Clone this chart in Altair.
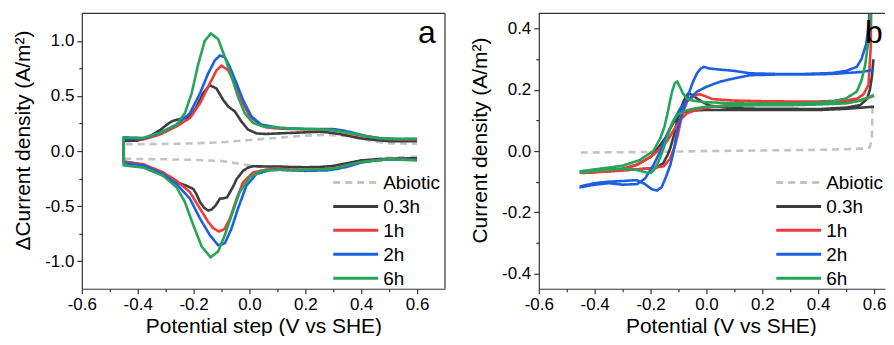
import altair as alt
import pandas as pd

SERIES = ["Abiotic", "0.3h", "1h", "2h", "6h"]
COLORS = ["#c4c4c4", "#3d3d3d", "#f03a3a", "#1c60e2", "#27a458"]
DASHES = [[7, 5], [1, 0], [1, 0], [1, 0], [1, 0]]

# ---------- panel a : differential current density (lower branch then upper branch)
A_ABIOTIC = [(0.6, -0.05), (0.5, -0.06), (0.45, -0.075), (0.4, -0.1), (0.35, -0.135), (0.3, -0.155),
             (0.2, -0.165), (0.1, -0.155), (0.0, -0.13), (-0.1, -0.09), (-0.2, -0.08), (-0.3, -0.075),
             (-0.45, -0.07), (-0.45, 0.06), (-0.3, 0.065), (-0.2, 0.07), (-0.1, 0.08), (0.0, 0.1),
             (0.1, 0.12), (0.2, 0.14), (0.28, 0.148), (0.35, 0.135), (0.4, 0.11), (0.45, 0.085),
             (0.5, 0.07), (0.6, 0.065)]
A_03H = [(0.6, -0.065), (0.5, -0.07), (0.45, -0.075), (0.4, -0.085), (0.35, -0.11), (0.3, -0.135),
         (0.25, -0.145), (0.2, -0.147), (0.15, -0.145), (0.1, -0.14), (0.05, -0.14), (0.013, -0.138),
         (-0.005, -0.15), (-0.023, -0.179), (-0.035, -0.22), (-0.046, -0.254), (-0.058, -0.32),
         (-0.07, -0.374), (-0.08, -0.42), (-0.095, -0.43), (-0.106, -0.433), (-0.12, -0.49),
         (-0.135, -0.53), (-0.148, -0.54), (-0.162, -0.515), (-0.177, -0.463), (-0.19, -0.39),
         (-0.201, -0.344), (-0.23, -0.31), (-0.261, -0.283), (-0.285, -0.25), (-0.309, -0.224),
         (-0.35, -0.16), (-0.4, -0.115), (-0.45, -0.095),
         (-0.45, 0.09), (-0.4, 0.095), (-0.36, 0.13), (-0.32, 0.19), (-0.29, 0.25), (-0.273, 0.275),
         (-0.25, 0.29), (-0.225, 0.3), (-0.205, 0.34), (-0.189, 0.404), (-0.166, 0.524), (-0.142, 0.598),
         (-0.118, 0.568), (-0.094, 0.464), (-0.076, 0.404), (-0.052, 0.359), (-0.029, 0.269),
         (-0.005, 0.195), (0.025, 0.16), (0.06, 0.155), (0.1, 0.16), (0.15, 0.165), (0.2, 0.17),
         (0.25, 0.175), (0.28, 0.17), (0.32, 0.155), (0.36, 0.135), (0.4, 0.115), (0.45, 0.1),
         (0.5, 0.09), (0.55, 0.09), (0.6, 0.09)]
A_1H = [(0.6, -0.08), (0.55, -0.075), (0.5, -0.075), (0.45, -0.085), (0.4, -0.1), (0.36, -0.125),
        (0.32, -0.15), (0.28, -0.165), (0.2, -0.17), (0.15, -0.168), (0.108, -0.16), (0.061, -0.168),
        (0.013, -0.194), (-0.023, -0.284), (-0.046, -0.433), (-0.07, -0.613), (-0.09, -0.71),
        (-0.109, -0.73), (-0.13, -0.7), (-0.148, -0.642), (-0.177, -0.523), (-0.213, -0.373),
        (-0.261, -0.269), (-0.309, -0.194), (-0.38, -0.119), (-0.45, -0.1),
        (-0.45, 0.12), (-0.38, 0.105), (-0.32, 0.15), (-0.261, 0.224), (-0.213, 0.3), (-0.177, 0.434),
        (-0.142, 0.613), (-0.118, 0.733), (-0.1, 0.775), (-0.076, 0.733), (-0.052, 0.613),
        (-0.029, 0.464), (0.001, 0.314), (0.037, 0.24), (0.06, 0.215), (0.1, 0.205), (0.15, 0.2),
        (0.2, 0.198), (0.25, 0.198), (0.28, 0.195), (0.32, 0.18), (0.36, 0.16), (0.4, 0.14),
        (0.45, 0.12), (0.5, 0.11), (0.55, 0.105), (0.6, 0.105)]
A_2H = [(0.6, -0.08), (0.5, -0.075), (0.45, -0.085), (0.4, -0.105), (0.36, -0.135), (0.32, -0.16),
        (0.28, -0.175), (0.2, -0.18), (0.15, -0.175), (0.108, -0.17), (0.073, -0.172), (0.025, -0.209),
        (-0.011, -0.314), (-0.041, -0.523), (-0.064, -0.702), (-0.088, -0.837), (-0.112, -0.855),
        (-0.142, -0.762), (-0.177, -0.613), (-0.213, -0.433), (-0.261, -0.299), (-0.309, -0.209),
        (-0.38, -0.13), (-0.45, -0.11),
        (-0.45, 0.11), (-0.38, 0.115), (-0.32, 0.165), (-0.261, 0.24), (-0.213, 0.344), (-0.177, 0.524),
        (-0.148, 0.703), (-0.124, 0.822), (-0.106, 0.867), (-0.088, 0.852), (-0.07, 0.762),
        (-0.046, 0.613), (-0.023, 0.464), (0.007, 0.314), (0.043, 0.24), (0.108, 0.21), (0.15, 0.205),
        (0.2, 0.2), (0.25, 0.2), (0.3, 0.2), (0.34, 0.185), (0.38, 0.16), (0.42, 0.135), (0.47, 0.115),
        (0.52, 0.11), (0.6, 0.11)]
A_6H = [(0.6, -0.085), (0.5, -0.075), (0.45, -0.085), (0.4, -0.1), (0.36, -0.12), (0.32, -0.15),
        (0.28, -0.165), (0.2, -0.17), (0.15, -0.175), (0.108, -0.17), (0.043, -0.179), (0.001, -0.239),
        (-0.035, -0.373), (-0.064, -0.583), (-0.088, -0.762), (-0.112, -0.911), (-0.139, -0.965),
        (-0.171, -0.867), (-0.201, -0.673), (-0.231, -0.463), (-0.261, -0.329), (-0.309, -0.224),
        (-0.38, -0.15), (-0.45, -0.13),
        (-0.45, 0.125), (-0.38, 0.12), (-0.32, 0.165), (-0.261, 0.24), (-0.231, 0.344), (-0.207, 0.524),
        (-0.183, 0.793), (-0.16, 1.0), (-0.138, 1.067), (-0.112, 1.017), (-0.088, 0.852),
        (-0.064, 0.673), (-0.041, 0.493), (-0.017, 0.344), (0.013, 0.255), (0.049, 0.224), (0.1, 0.212),
        (0.15, 0.205), (0.2, 0.2), (0.25, 0.198), (0.28, 0.195), (0.32, 0.18), (0.358, 0.165),
        (0.4, 0.145), (0.44, 0.125), (0.477, 0.111), (0.55, 0.11), (0.6, 0.111)]

# ---------- panel b : cyclic voltammograms (reverse branch then forward branch)
B_ABIOTIC = [(-0.45, -0.005), (-0.2, -0.003), (0.0, 0.0), (0.2, 0.002), (0.4, 0.004), (0.5, 0.006),
             (0.56, 0.008), (0.585, 0.012), (0.592, 0.04), (0.594, 0.1), (0.595, 0.15)]
B_03H = [(0.6, 0.145), (0.5, 0.138), (0.4, 0.134), (0.3, 0.134), (0.157, 0.134), (-0.01, 0.134),
         (-0.05, 0.132), (-0.093, 0.126), (-0.11, 0.105), (-0.129, 0.075), (-0.145, 0.045),
         (-0.165, 0.02), (-0.2, -0.02), (-0.25, -0.045), (-0.3, -0.058), (-0.4, -0.068), (-0.45, -0.07),
         (-0.45, -0.07), (-0.35, -0.065), (-0.25, -0.06), (-0.18, -0.055), (-0.155, -0.04),
         (-0.14, -0.015), (-0.129, 0.01), (-0.117, 0.05), (-0.105, 0.097), (-0.093, 0.135),
         (-0.082, 0.162), (-0.072, 0.18), (-0.064, 0.189), (-0.05, 0.183), (-0.034, 0.172),
         (-0.01, 0.158), (0.014, 0.148), (0.1, 0.14), (0.2, 0.138), (0.3, 0.138), (0.4, 0.137),
         (0.5, 0.142), (0.55, 0.15), (0.575, 0.17), (0.585, 0.2), (0.592, 0.24), (0.598, 0.3)]
B_1H = [(0.6, 0.18), (0.55, 0.165), (0.5, 0.158), (0.4, 0.156), (0.3, 0.155), (0.2, 0.155), (0.1, 0.152),
        (0.05, 0.148), (-0.01, 0.14), (-0.04, 0.133), (-0.069, 0.124), (-0.087, 0.108), (-0.105, 0.086),
        (-0.141, 0.032), (-0.189, -0.012), (-0.248, -0.045), (-0.3, -0.06), (-0.4, -0.07), (-0.45, -0.072),
        (-0.45, -0.072), (-0.35, -0.067), (-0.25, -0.06), (-0.2, -0.056), (-0.153, -0.05), (-0.13, -0.025),
        (-0.115, 0.01), (-0.105, 0.042), (-0.087, 0.118), (-0.069, 0.162), (-0.045, 0.18),
        (-0.025, 0.186), (0.0, 0.178), (0.02, 0.17), (0.1, 0.165), (0.2, 0.163), (0.3, 0.162),
        (0.4, 0.162), (0.5, 0.165), (0.54, 0.172), (0.562, 0.185), (0.58, 0.216), (0.588, 0.335),
        (0.592, 0.6)]
B_2H = [(0.6, 0.265), (0.55, 0.258), (0.45, 0.252), (0.35, 0.25), (0.25, 0.25), (0.157, 0.248),
        (0.097, 0.237), (0.05, 0.227), (0.0, 0.21), (-0.034, 0.194), (-0.06, 0.172), (-0.093, 0.14),
        (-0.12, 0.095), (-0.141, 0.053), (-0.165, 0.0), (-0.189, -0.045), (-0.22, -0.09),
        (-0.248, -0.108), (-0.3, -0.11), (-0.35, -0.105), (-0.4, -0.11), (-0.45, -0.118),
        (-0.45, -0.115), (-0.4, -0.105), (-0.35, -0.1), (-0.3, -0.098), (-0.25, -0.095), (-0.22, -0.108),
        (-0.195, -0.125), (-0.177, -0.129), (-0.16, -0.118), (-0.145, -0.085), (-0.129, -0.045),
        (-0.117, 0.0), (-0.105, 0.064), (-0.087, 0.125), (-0.069, 0.172), (-0.05, 0.222),
        (-0.034, 0.254), (-0.02, 0.27), (-0.01, 0.275), (0.01, 0.27), (0.05, 0.266), (0.1, 0.262),
        (0.157, 0.254), (0.25, 0.252), (0.35, 0.252), (0.45, 0.255), (0.5, 0.262), (0.538, 0.275),
        (0.555, 0.3), (0.572, 0.35), (0.582, 0.42), (0.588, 0.6)]
B_6H = [(0.6, 0.183), (0.55, 0.165), (0.503, 0.156), (0.4, 0.152), (0.3, 0.15), (0.2, 0.15), (0.1, 0.148),
        (0.0, 0.145), (-0.05, 0.138), (-0.08, 0.13), (-0.105, 0.118), (-0.118, 0.1), (-0.129, 0.075),
        (-0.14, 0.045), (-0.153, 0.01), (-0.165, -0.02), (-0.177, -0.045), (-0.19, -0.065), (-0.2, -0.072),
        (-0.215, -0.07), (-0.25, -0.062), (-0.3, -0.058), (-0.4, -0.065), (-0.45, -0.07),
        (-0.45, -0.066), (-0.4, -0.06), (-0.3, -0.048), (-0.24, -0.03), (-0.19, 0.0), (-0.165, 0.042),
        (-0.15, 0.08), (-0.14, 0.12), (-0.13, 0.165), (-0.123, 0.194), (-0.113, 0.222), (-0.105, 0.227),
        (-0.095, 0.21), (-0.085, 0.19), (-0.07, 0.172), (-0.05, 0.165), (-0.01, 0.16), (0.1, 0.156),
        (0.2, 0.155), (0.3, 0.155), (0.4, 0.158), (0.45, 0.162), (0.5, 0.172), (0.538, 0.194),
        (0.555, 0.23), (0.568, 0.28), (0.58, 0.36), (0.586, 0.41), (0.59, 0.6)]

X_TICKS = [-0.6, -0.5, -0.4, -0.3, -0.2, -0.1, 0.0, 0.1, 0.2, 0.3, 0.4, 0.5, 0.6]
YA_TICKS = [-1.0, -0.75, -0.5, -0.25, 0.0, 0.25, 0.5, 0.75, 1.0]
YB_TICKS = [-0.4, -0.3, -0.2, -0.1, 0.0, 0.1, 0.2, 0.3, 0.4]

FONT = "Liberation Sans"
FRAME = "#333333"
LABEL = "(datum.value < -0.001 ? '-' : '') + format(abs(datum.value), '.1f')"
H = 276


def frame(rows):
    recs = []
    for name, pts in zip(SERIES, rows):
        for i, (x, y) in enumerate(pts):
            recs.append({"series": name, "x": x, "y": y, "i": i})
    return pd.DataFrame(recs)


def axis(title, values, step_mult, **kw):
    major = f"abs(round(datum.value*{step_mult})) % 2 == 0"
    return alt.Axis(
        title=title, values=values, grid=False, labelFlush=False, labelOverlap=False,
        labelExpr=f"{major} ? {LABEL} : ''",
        tickSize={"condition": {"test": major, "value": 5}, "value": 3},
        **kw)


ONE = pd.DataFrame({"k": [0]})


def panel(df, ydom, yvals, ymult, ytitle, xtitle, letter, xmax, w, right_border, letter_x, legend_x,
          titlex=None):
    xkw = {}
    if titlex is not None:
        xkw["titleX"] = titlex
    xax = axis(xtitle, X_TICKS, 10, titlePadding=3, **xkw)
    yax = axis(ytitle, yvals, ymult, titleY=127, titlePadding=11)
    layers = []
    for s in SERIES:
        layers.append(
            alt.Chart(df).transform_filter(alt.datum.series == s)
            .mark_line(clip=True, strokeWidth=2.6)
            .encode(
                x=alt.X("x:Q", scale=alt.Scale(domain=[-0.6, xmax], nice=False, zero=False), axis=xax),
                y=alt.Y("y:Q", scale=alt.Scale(domain=ydom, nice=False, zero=False), axis=yax),
                color=alt.Color("series:N", scale=alt.Scale(domain=SERIES, range=COLORS), legend=None),
                strokeDash=alt.StrokeDash("series:N", scale=alt.Scale(domain=SERIES, range=DASHES),
                                          legend=None),
                order="i:Q",
            )
        )
    # frame: top (and right) border
    layers.append(alt.Chart(ONE).mark_rule(color=FRAME, strokeWidth=1.2).encode(
        x=alt.value(0), x2=alt.value(w), y=alt.value(0)))
    if right_border:
        layers.append(alt.Chart(ONE).mark_rule(color=FRAME, strokeWidth=1.2).encode(
            x=alt.value(w), y=alt.value(0), y2=alt.value(H)))
    # legend
    lx, ly, step = legend_x, 169.5, 24
    for k, (s, c, d) in enumerate(zip(SERIES, COLORS, DASHES)):
        layers.append(alt.Chart(ONE).mark_rule(color=c, strokeWidth=3, strokeDash=d).encode(
            x=alt.value(lx), x2=alt.value(lx + 45), y=alt.value(ly + step * k)))
        layers.append(alt.Chart(ONE).mark_text(
            fontSize=19, font=FONT, align="left", baseline="middle", color="black",
            text=s).encode(x=alt.value(lx + 50), y=alt.value(ly + step * k + 1)))
    layers.append(alt.Chart(ONE).mark_text(
        fontSize=32, font=FONT, align="left", baseline="alphabetic", color="black",
        text=letter).encode(x=alt.value(letter_x), y=alt.value(30)))
    return alt.layer(*layers).properties(width=w, height=H)


df_a = frame([A_ABIOTIC, A_03H, A_1H, A_2H, A_6H])
df_b = frame([B_ABIOTIC, B_03H, B_1H, B_2H, B_6H])

WB = 347
pa = panel(df_a, [-1.25, 1.25], YA_TICKS, 4, "ΔCurrent density (A/m²)", "Potential step (V vs SHE)",
           "a", 0.7, 364, True, 337, 252)
pb = panel(df_b, [-0.45, 0.45], YB_TICKS, 10, "Current density (A/m²)", "Potential (V vs SHE)",
           "b", -0.6 + WB / 280.0, WB, False, 327, 238, titlex=182.5)

chart = (
    alt.hconcat(pa, pb, spacing=23)
    .configure(font=FONT, padding={"left": 4, "top": 4, "right": 0, "bottom": -1})
    .configure_view(stroke=None)
    .configure_axis(labelFont=FONT, titleFont=FONT, labelFontSize=17, titleFontSize=21,
                    titleFontWeight="normal", labelColor="black", titleColor="black",
                    domainColor=FRAME, tickColor=FRAME, domainWidth=1.2, tickWidth=1.2,
                    labelPadding=3)
)

chart.save("out.html", embed_options={"renderer": "svg", "actions": False})
